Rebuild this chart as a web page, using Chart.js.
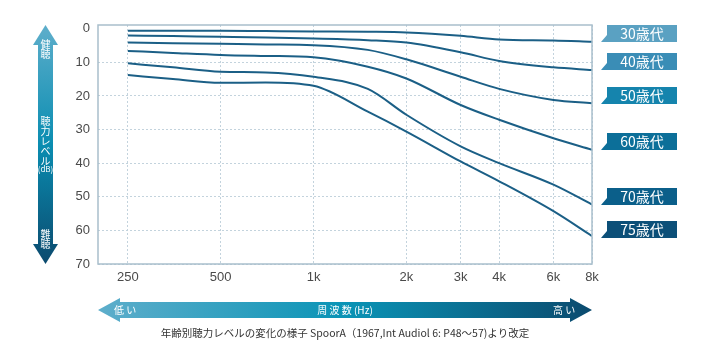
<!DOCTYPE html>
<html>
<head>
<meta charset="utf-8">
<script src="https://cdn.jsdelivr.net/npm/chart.js@4"></script>
<style>
  html, body { margin: 0; padding: 0; background: #fff; }
  #wrap { width: 720px; height: 359px; position: relative; }
</style>
</head>
<body>
<div id="wrap"><canvas id="audio-chart" width="720" height="359"></canvas></div>
<script>
// frequencies (Hz) and hearing level (dB) per age group
var freqs = [250, 350, 500, 700, 1000, 1500, 2000, 3000, 4000, 6000, 8000];
var ageLabels = ["30歳代", "40歳代", "50歳代", "60歳代", "70歳代", "75歳代"];
var age30 = [0.6, 0.6, 0.6, 0.7, 0.8, 0.9, 1.1, 2.1, 3.2, 3.5, 3.9];
var age40 = [2.0, 2.2, 2.4, 2.6, 2.9, 3.4, 4.1, 7.0, 9.6, 11.5, 12.3];
var age50 = [4.1, 4.3, 4.5, 4.7, 4.9, 6.3, 9.1, 14.3, 17.9, 21.2, 22.2];
var age60 = [6.6, 7.2, 7.8, 8.1, 8.5, 11.3, 14.8, 22.7, 27.1, 32.6, 36.0];
var age70 = [10.3, 11.5, 12.8, 13.0, 14.3, 17.9, 25.6, 35.0, 40.0, 46.4, 52.3];
var age75 = [13.8, 15.0, 16.1, 16.0, 17.0, 24.7, 30.6, 39.5, 45.4, 54.3, 61.7];
var xTicks = [250, 500, 1000, 2000, 3000, 4000, 6000, 8000];
var xTickLabels = ["250", "500", "1k", "2k", "3k", "4k", "6k", "8k"];
var yTicks = [0, 10, 20, 30, 40, 50, 60, 70];

var series = [age30, age40, age50, age60, age70, age75];
var LINE = "#1b5f86";
var JP = '"Noto Sans CJK JP", sans-serif';

function toPoints(vals) {
    return vals.map(function (v, i) { return { x: freqs[i], y: v }; });
}

var datasets = series.map(function (vals, i) {
    return {
        label: ageLabels[i],
        data: toPoints(vals),
        borderColor: LINE,
        borderWidth: 2,
        pointRadius: 0,
        fill: false,
        cubicInterpolationMode: 'monotone'
    };
});

// decorations: frame, arrows, age tags, caption
var decor = {
    id: 'decor',
    afterDraw: function (chart) {
        var c = chart.ctx;
        var a = chart.chartArea;
        c.save();

        // plot frame
        c.strokeStyle = "#a9bfcc";
        c.lineWidth = 1.5;
        c.strokeRect(a.left, a.top, a.right - a.left, a.bottom - a.top);

        // vertical arrow
        var g = c.createLinearGradient(0, 25, 0, 264);
        g.addColorStop(0, "#5eaecb");
        g.addColorStop(0.5, "#0a8db1");
        g.addColorStop(1, "#0b4a6e");
        c.fillStyle = g;
        c.beginPath();
        c.moveTo(45.5, 25);
        c.lineTo(58, 45);
        c.lineTo(53, 45);
        c.lineTo(53, 244);
        c.lineTo(58, 244);
        c.lineTo(45.5, 264);
        c.lineTo(33, 244);
        c.lineTo(38, 244);
        c.lineTo(38, 45);
        c.lineTo(33, 45);
        c.closePath();
        c.fill();

        c.fillStyle = "#fff";
        c.textAlign = "center";
        c.textBaseline = "middle";
        c.font = "10px " + JP;
        var stackV = function (chars, y0, step) {
            chars.forEach(function (ch, i) { c.fillText(ch, 45.5, y0 + i * step); });
        };
        stackV(["健", "聴"], 44, 10);
        stackV(["聴", "力", "レ", "ベ", "ル"], 121, 10);
        c.font = "8px " + JP;
        c.fillText("(dB)", 45.5, 169);
        c.font = "10px " + JP;
        stackV(["難", "聴"], 234, 10);

        // horizontal arrow
        var h = c.createLinearGradient(98, 0, 592, 0);
        h.addColorStop(0, "#5eaecb");
        h.addColorStop(0.5, "#0a94b6");
        h.addColorStop(1, "#0b4a6e");
        c.fillStyle = h;
        c.beginPath();
        c.moveTo(98, 310);
        c.lineTo(120, 298);
        c.lineTo(120, 302);
        c.lineTo(570, 302);
        c.lineTo(570, 298);
        c.lineTo(592, 310);
        c.lineTo(570, 322);
        c.lineTo(570, 318);
        c.lineTo(120, 318);
        c.lineTo(120, 322);
        c.closePath();
        c.fill();

        c.fillStyle = "#fff";
        c.font = "10px " + JP;
        c.textAlign = "left";
        c.fillText("低 い", 114, 310);
        c.fillText("高 い", 553, 310);
        c.textAlign = "center";
        c.fillText("周 波 数 (Hz)", 345, 310);

        // caption
        c.fillStyle = "#333";
        c.font = "10.5px " + JP;
        c.fillText("年齢別聴力レベルの変化の様子 SpoorA（1967,Int Audiol 6: P48〜57)より改定", 345, 333);

        // age tags
        var tagTops = [25, 53, 87, 133, 188, 221];
        var tagColors = ["#5aa1c2", "#3a8db6", "#1584ad", "#0c6f99", "#0b5f8a", "#0c4f78"];
        c.font = "14px " + JP;
        tagTops.forEach(function (t, i) {
            var x0 = 607, x1 = 677, hgt = 17;
            c.fillStyle = tagColors[i];
            c.fillRect(x0, t, x1 - x0, hgt);
            c.beginPath();
            c.moveTo(x0, t + hgt - 7);
            c.lineTo(x0, t + hgt);
            c.lineTo(x0 - 6, t + hgt);
            c.closePath();
            c.fill();
            c.fillStyle = "#fff";
            c.textAlign = "center";
            c.fillText(ageLabels[i], (x0 + x1) / 2, t + hgt / 2 + 0.5);
        });

        c.restore();
    }
};

var ctx = document.getElementById("audio-chart");

var AudioChart = new Chart(ctx, {
    type: 'line',
    data: { datasets: datasets },
    options: {
        responsive: false,
        animation: false,
        layout: { padding: { top: 25, right: 128, bottom: 71, left: 0 } },
        plugins: {
            legend: { display: false },
            tooltip: { enabled: false }
        },
        scales: {
            x: {
                type: 'logarithmic',
                min: 200,
                max: 8000,
                afterBuildTicks: function (scale) {
                    scale.ticks = xTicks.map(function (v) { return { value: v }; });
                },
                afterFit: function (scale) { scale.height = 24; },
                ticks: {
                    autoSkip: false,
                    maxRotation: 0,
                    padding: 6,
                    color: "#4a4a4a",
                    font: { family: '"Liberation Sans", sans-serif', size: 13 },
                    callback: function (v) {
                        var i = xTicks.indexOf(v);
                        return i >= 0 ? xTickLabels[i] : '';
                    }
                },
                grid: { color: "#c3d3dd", lineWidth: 1, drawTicks: false },
                border: { display: false, dash: [2, 2] }
            },
            y: {
                type: 'linear',
                reverse: true,
                min: -1.1,
                max: 70,
                afterBuildTicks: function (scale) {
                    scale.ticks = yTicks.map(function (v) { return { value: v }; });
                },
                afterFit: function (scale) { scale.width = 98; },
                ticks: {
                    padding: 8,
                    color: "#4a4a4a",
                    font: { family: '"Liberation Sans", sans-serif', size: 13 }
                },
                grid: {
                    color: function (c) {
                        return c.tick && c.tick.value === 0 ? 'rgba(0,0,0,0)' : "#c3d3dd";
                    },
                    lineWidth: 1,
                    drawTicks: false
                },
                border: { display: false, dash: [2, 2] }
            }
        }
    },
    plugins: [decor]
});
</script>
</body>
</html>
